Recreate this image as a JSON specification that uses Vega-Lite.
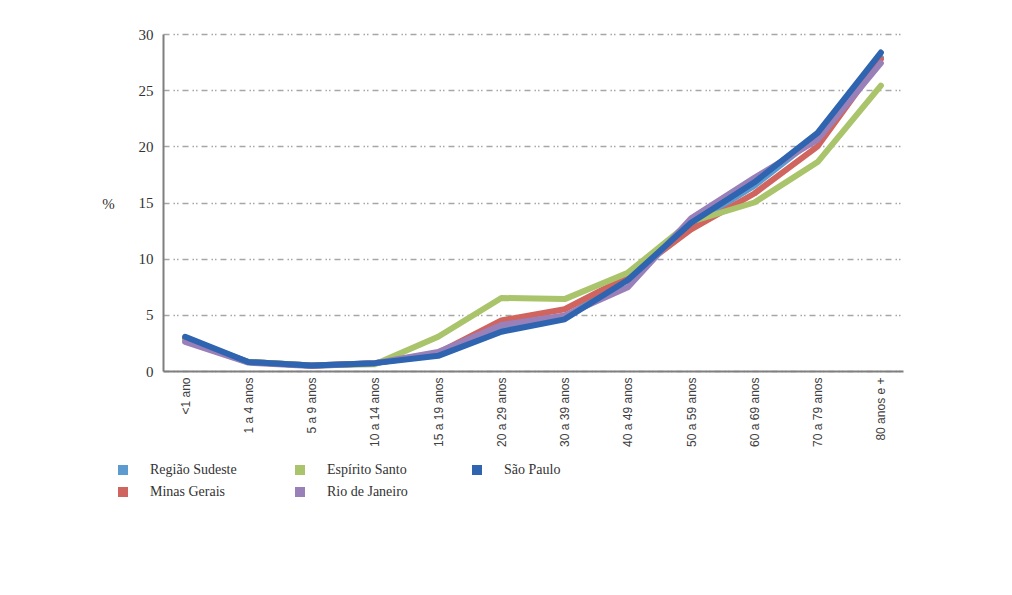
{
  "$schema": "https://vega.github.io/schema/vega-lite/v6.json",
  "width": 740,
  "height": 337,
  "autosize": {"type": "none"},
  "padding": {"left": 163, "top": 34, "right": 109, "bottom": 224},
  "background": "white",
  "config": {
    "view": {"stroke": null},
    "font": "Liberation Serif"
  },
  "data": {
    "values": [
      {"idade": "<1 ano", "estado": "Região Sudeste", "pct": 2.9},
      {"idade": "1 a 4 anos", "estado": "Região Sudeste", "pct": 0.8},
      {"idade": "5 a 9 anos", "estado": "Região Sudeste", "pct": 0.5},
      {"idade": "10 a 14 anos", "estado": "Região Sudeste", "pct": 0.7},
      {"idade": "15 a 19 anos", "estado": "Região Sudeste", "pct": 1.5},
      {"idade": "20 a 29 anos", "estado": "Região Sudeste", "pct": 3.9},
      {"idade": "30 a 39 anos", "estado": "Região Sudeste", "pct": 4.8},
      {"idade": "40 a 49 anos", "estado": "Região Sudeste", "pct": 8.2},
      {"idade": "50 a 59 anos", "estado": "Região Sudeste", "pct": 13.0},
      {"idade": "60 a 69 anos", "estado": "Região Sudeste", "pct": 16.5},
      {"idade": "70 a 79 anos", "estado": "Região Sudeste", "pct": 20.9},
      {"idade": "80 anos e +", "estado": "Região Sudeste", "pct": 27.9},
      {"idade": "<1 ano", "estado": "Minas Gerais", "pct": 2.8},
      {"idade": "1 a 4 anos", "estado": "Minas Gerais", "pct": 0.8},
      {"idade": "5 a 9 anos", "estado": "Minas Gerais", "pct": 0.5},
      {"idade": "10 a 14 anos", "estado": "Minas Gerais", "pct": 0.7},
      {"idade": "15 a 19 anos", "estado": "Minas Gerais", "pct": 1.6},
      {"idade": "20 a 29 anos", "estado": "Minas Gerais", "pct": 4.5},
      {"idade": "30 a 39 anos", "estado": "Minas Gerais", "pct": 5.5},
      {"idade": "40 a 49 anos", "estado": "Minas Gerais", "pct": 8.4},
      {"idade": "50 a 59 anos", "estado": "Minas Gerais", "pct": 12.6},
      {"idade": "60 a 69 anos", "estado": "Minas Gerais", "pct": 15.8},
      {"idade": "70 a 79 anos", "estado": "Minas Gerais", "pct": 20.0},
      {"idade": "80 anos e +", "estado": "Minas Gerais", "pct": 27.75},
      {"idade": "<1 ano", "estado": "Espírito Santo", "pct": 2.7},
      {"idade": "1 a 4 anos", "estado": "Espírito Santo", "pct": 0.8},
      {"idade": "5 a 9 anos", "estado": "Espírito Santo", "pct": 0.5},
      {"idade": "10 a 14 anos", "estado": "Espírito Santo", "pct": 0.6},
      {"idade": "15 a 19 anos", "estado": "Espírito Santo", "pct": 3.05},
      {"idade": "20 a 29 anos", "estado": "Espírito Santo", "pct": 6.5},
      {"idade": "30 a 39 anos", "estado": "Espírito Santo", "pct": 6.4},
      {"idade": "40 a 49 anos", "estado": "Espírito Santo", "pct": 8.75},
      {"idade": "50 a 59 anos", "estado": "Espírito Santo", "pct": 13.3},
      {"idade": "60 a 69 anos", "estado": "Espírito Santo", "pct": 15.0},
      {"idade": "70 a 79 anos", "estado": "Espírito Santo", "pct": 18.6},
      {"idade": "80 anos e +", "estado": "Espírito Santo", "pct": 25.4},
      {"idade": "<1 ano", "estado": "Rio de Janeiro", "pct": 2.6},
      {"idade": "1 a 4 anos", "estado": "Rio de Janeiro", "pct": 0.75},
      {"idade": "5 a 9 anos", "estado": "Rio de Janeiro", "pct": 0.45},
      {"idade": "10 a 14 anos", "estado": "Rio de Janeiro", "pct": 0.7},
      {"idade": "15 a 19 anos", "estado": "Rio de Janeiro", "pct": 1.7},
      {"idade": "20 a 29 anos", "estado": "Rio de Janeiro", "pct": 4.1},
      {"idade": "30 a 39 anos", "estado": "Rio de Janeiro", "pct": 4.95},
      {"idade": "40 a 49 anos", "estado": "Rio de Janeiro", "pct": 7.45},
      {"idade": "50 a 59 anos", "estado": "Rio de Janeiro", "pct": 13.6},
      {"idade": "60 a 69 anos", "estado": "Rio de Janeiro", "pct": 17.2},
      {"idade": "70 a 79 anos", "estado": "Rio de Janeiro", "pct": 20.6},
      {"idade": "80 anos e +", "estado": "Rio de Janeiro", "pct": 27.4},
      {"idade": "<1 ano", "estado": "São Paulo", "pct": 3.05},
      {"idade": "1 a 4 anos", "estado": "São Paulo", "pct": 0.8},
      {"idade": "5 a 9 anos", "estado": "São Paulo", "pct": 0.5},
      {"idade": "10 a 14 anos", "estado": "São Paulo", "pct": 0.7},
      {"idade": "15 a 19 anos", "estado": "São Paulo", "pct": 1.35},
      {"idade": "20 a 29 anos", "estado": "São Paulo", "pct": 3.5},
      {"idade": "30 a 39 anos", "estado": "São Paulo", "pct": 4.6},
      {"idade": "40 a 49 anos", "estado": "São Paulo", "pct": 8.1},
      {"idade": "50 a 59 anos", "estado": "São Paulo", "pct": 13.2},
      {"idade": "60 a 69 anos", "estado": "São Paulo", "pct": 16.8},
      {"idade": "70 a 79 anos", "estado": "São Paulo", "pct": 21.2},
      {"idade": "80 anos e +", "estado": "São Paulo", "pct": 28.35}
    ]
  },
  "mark": {"type": "line", "strokeWidth": 6, "strokeCap": "round", "strokeJoin": "round"},
  "encoding": {
    "x": {
      "field": "idade",
      "type": "ordinal",
      "sort": null,
      "scale": {"type": "point", "padding": 0.35},
      "axis": {
        "title": null,
        "labelAngle": -90,
        "labelFont": "Liberation Sans",
        "labelFontSize": 12,
        "labelColor": "#404040",
        "labelPadding": 6,
        "ticks": false,
        "domainColor": "#7f7f7f",
        "domainWidth": 2,
        "grid": false
      }
    },
    "y": {
      "field": "pct",
      "type": "quantitative",
      "scale": {"domain": [0, 30], "nice": false},
      "axis": {
        "values": [0, 5, 10, 15, 20, 25, 30],
        "title": "%",
        "titleAngle": 0,
        "titleX": -55,
        "titleY": 169,
        "titleAlign": "center",
        "titleBaseline": "middle",
        "titleFont": "Liberation Serif",
        "titleFontSize": 15,
        "titleFontWeight": "normal",
        "titleColor": "#333333",
        "labelFont": "Liberation Serif",
        "labelFontSize": 15,
        "labelColor": "#333333",
        "labelPadding": 10,
        "ticks": false,
        "domainColor": "#7f7f7f",
        "domainWidth": 2,
        "grid": true,
        "gridColor": "#a6a6a6",
        "gridWidth": 1.5,
        "gridDash": [6, 4, 1.5, 2, 1.5, 4]
      }
    },
    "color": {
      "field": "estado",
      "type": "nominal",
      "scale": {
        "domain": ["Região Sudeste", "Espírito Santo", "São Paulo", "Minas Gerais", "Rio de Janeiro"],
        "range": ["#5b9bd0", "#a9c46a", "#2e64b0", "#d0645e", "#9a80b8"]
      },
      "legend": {
        "title": null,
        "orient": "none",
        "legendX": -47,
        "legendY": 429,
        "columns": 3,
        "direction": "horizontal",
        "gridAlign": "all",
        "symbolType": "square",
        "symbolSize": 100,
        "symbolStrokeWidth": 0,
        "labelFont": "Liberation Serif",
        "labelFontSize": 14,
        "labelColor": "#333333",
        "labelOffset": 20,
        "columnPadding": 56,
        "rowPadding": 8,
        "encode": {
          "symbols": {
            "update": {
              "fill": {"scale": "color", "field": "value"},
              "strokeWidth": {"value": 0}
            }
          }
        }
      }
    },
    "order": {"field": "estado"}
  }
}
